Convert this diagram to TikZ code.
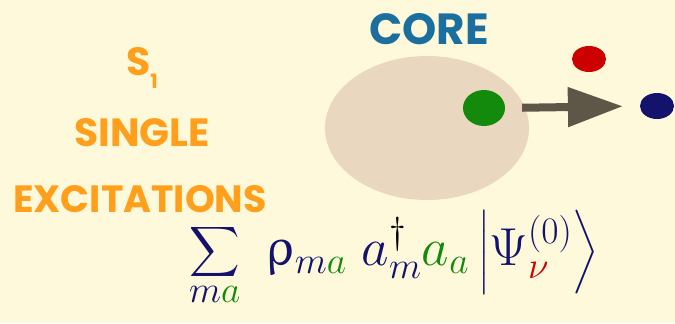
\RequirePackage{fix-cm}
\documentclass[tikz,border=0pt]{standalone}
\usepackage{fontspec}
\usepackage{amsmath}
\usepackage{upgreek}
\usepackage{xcolor}
\usetikzlibrary{arrows.meta,positioning,shapes.geometric}
\setsansfont{Poppins}
\definecolor{Paper}{HTML}{FFF9DC}
\definecolor{Orange}{HTML}{FF9F1C}
\definecolor{Ocean}{HTML}{1B6F9E}
\definecolor{Sand}{HTML}{E9D8BF}
\definecolor{Leaf}{HTML}{138A0B}
\definecolor{Crimson}{HTML}{CC0000}
\definecolor{Navy}{HTML}{13136E}
\definecolor{Umber}{HTML}{5E5747}
\tikzset{
  title/.style={font=\sffamily\bfseries\fontsize{28}{30}\selectfont,text=Orange,inner sep=0pt},
  dot/.style={ellipse,inner sep=0pt,draw=none},
  push/.style={-{Triangle[length=13.75mm,width=9.5mm]},line width=2mm,draw=Umber}
}
\begin{document}
\begin{tikzpicture}[x=0.025cm,y=-0.025cm]
      \useasboundingbox (0,0) rectangle (675,323);
      \fill[Paper] (0,0) rectangle (675,323);
      % labels on the left
      \node[title] (sone) at (142,68) {S\raisebox{-0.35em}{\fontsize{14}{14}\selectfont 1}};
      \node[title] (single) at (142,133) {SINGLE};
      \node[title,font=\sffamily\bfseries\fontsize{27}{30}\selectfont] (excite) at (140,199) {EXCITATIONS};
      \node[title,text=Ocean,font=\sffamily\bfseries\fontsize{31}{33}\selectfont] (core) at (429,29) {CORE};
      % core and electrons
      \node[dot,fill=Sand,minimum width=5.1cm,minimum height=3.6cm] (shell) at (427,128) {};
      \node[dot,fill=Leaf,minimum width=1.05cm,minimum height=0.9cm] (hole) at (484,108) {};
      \node[dot,fill=Crimson,minimum width=0.85cm,minimum height=0.65cm] (upper) at (589,59) {};
      \node[dot,fill=Navy,minimum width=0.85cm,minimum height=0.65cm] (target) at (657,106) {};
      \draw[push,shorten <=0.42cm,shorten >=0.42cm] (hole.east) -- (target.west);
      % operator
      \node[text=Navy,font=\fontsize{38}{44}\selectfont,inner sep=0pt] (sum) at (394,258) {\(\displaystyle
        \sum_{m\textcolor{Leaf}{a}}\ \uprho_{m\textcolor{Leaf}{a}}\;
        a^{\textcolor{black}{\dagger}}_{m}\textcolor{Leaf}{a_a}
        \left|\Psi^{(0)}_{\textcolor{Crimson}{\nu}}\right\rangle\)};
    \end{tikzpicture}
\end{document}
